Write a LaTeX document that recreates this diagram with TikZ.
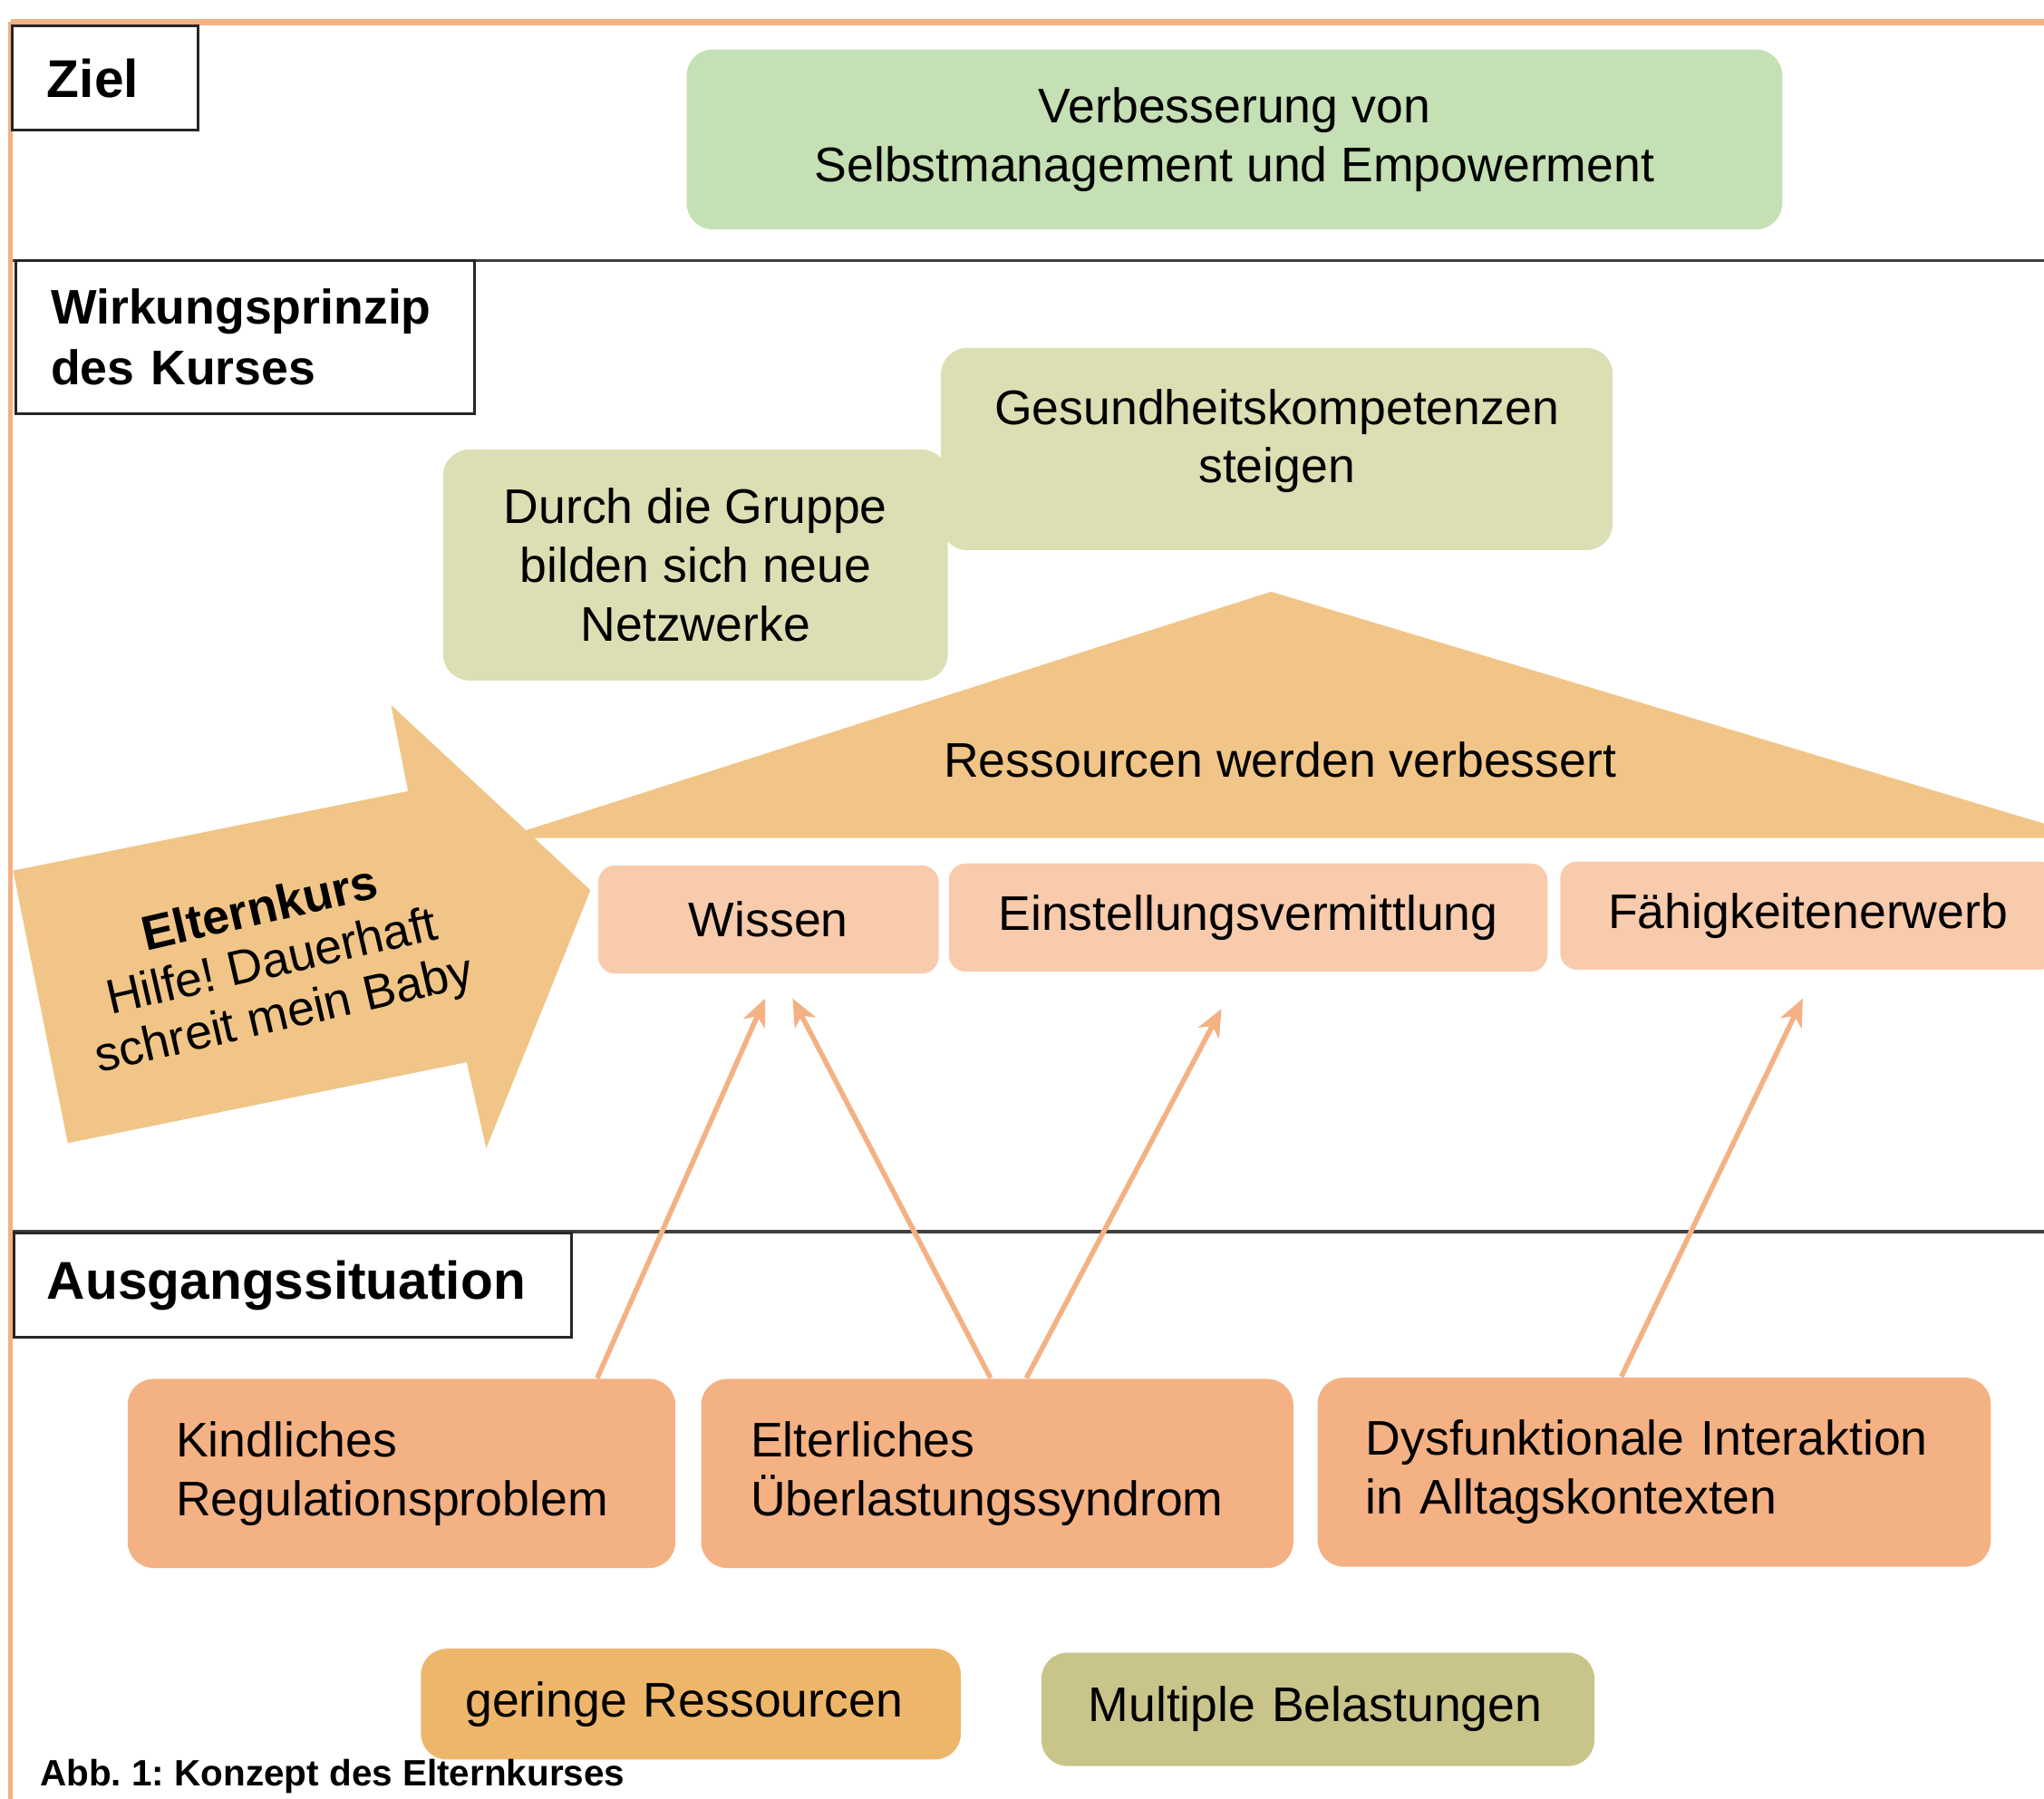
\documentclass[tikz,border=0pt]{standalone}
\usepackage{fontspec}
\setmainfont{Liberation Sans}
\usetikzlibrary{arrows.meta,positioning}

\definecolor{frameorange}{HTML}{F4B183}
\definecolor{goalgreen}{HTML}{C5E0B4}
\definecolor{paleolive}{HTML}{DCDFB3}
\definecolor{sandorange}{HTML}{F1C587}
\definecolor{lightsalmon}{HTML}{F8CBAD}
\definecolor{salmon}{HTML}{F4B183}
\definecolor{ochre}{HTML}{EEB66A}
\definecolor{olivebox}{HTML}{C9C48A}

\tikzset{
  base/.style={font=\fontsize{10.6}{12.8}\selectfont},
  heading/.style={draw=black!85, line width=0.6pt, fill=white, anchor=north west,
    inner xsep=0.27cm, align=left, font=\fontsize{10.6}{13.1}\selectfont\bfseries},
  bigheading/.style={heading, font=\fontsize{11.6}{13.9}\selectfont\bfseries},
  separator/.style={draw=black!75, line width=0.7pt},
  roundbox/.style={base, rounded corners=0.2cm, inner sep=0pt, align=center},
  skillbox/.style={roundbox, fill=lightsalmon, rounded corners=0.13cm, minimum height=0.83cm},
  problembox/.style={roundbox, fill=salmon, minimum height=1.45cm, align=left},
  link/.style={draw=salmon, line width=1.1pt, -{Stealth[length=0.21cm, width=0.18cm, inset=0.06cm]}}
}

\begin{document}
\frenchspacing
\begin{tikzpicture}[x=0.01cm,y=0.01cm]

  % page size of the reference
  \useasboundingbox (0,0) rectangle (1568,-1380);

  % orange frame, top and left
  \draw[frameorange, line width=1.4pt] (8,-17) -- (1568,-17);
  \draw[frameorange, line width=0.9pt] (8,-17) -- (8,-1380);

  % separator lines (loop)
  \foreach \y in {200,945}
    \draw[separator] (10,-\y) -- (1568,-\y);

  % section headings
  \node[bigheading, text width=0.89cm, minimum height=0.8cm] (ziel) at (8,-19) {Ziel};
  \node[heading, text width=2.98cm, minimum height=1.17cm] (wirk) at (11,-199) {Wirkungsprinzip\\des Kurses};
  \node[bigheading, text width=3.77cm, minimum height=0.8cm, inner xsep=0.25cm] (ausgang) at (10,-945) {Ausgangssituation};

  % goal
  \node[roundbox, fill=goalgreen, minimum width=8.4cm, minimum height=1.38cm] (goal) at (947,-107)
    {Verbesserung von\\Selbstmanagement und Empowerment};

  % effects of the course
  \node[roundbox, fill=paleolive, minimum width=5.15cm, minimum height=1.55cm] (kompetenz) at (979.5,-344.5)
    {Gesundheitskompetenzen\\steigen\\[-0.25cm]};
  \node[roundbox, fill=paleolive, minimum width=3.87cm, minimum height=1.77cm] (netz) at (533.5,-433.5)
    {Durch die Gruppe\\bilden sich neue\\Netzwerke};

  % triangle and big arrow
  \fill[sandorange] (385,-643) -- (975,-454) -- (1605,-643) -- cycle;
  \node[base] (ressourcen) at (982,-583) {Ressourcen werden verbessert};
  \fill[sandorange] (10,-668) -- (313,-607) -- (300,-541) -- (453,-683)
    -- (373,-881) -- (358,-815) -- (52,-877) -- cycle;
  \node[font=\fontsize{10.6}{11.8}\selectfont, rotate=13, align=center] (kurs) at (209,-740)
    {\textbf{Elternkurs}\\Hilfe! Dauerhaft\\schreit mein Baby};

  % resources (loop)
  \foreach \name/\x/\y/\w/\txt in {wissen/589.5/705.5/2.61/Wissen,
      einstellung/957.5/704/4.59/Einstellungsvermittlung,
      faehig/1387/702.5/3.8/Fähigkeitenerwerb}
    \node[skillbox, minimum width=\w cm] (\name) at (\x,-\y) {\txt};

  % starting problems (loop)
  \foreach \name/\x/\y/\w/\tw/\txt in {kind/308/1130.5/4.20/3.46/{Kindliches\\Regulationsproblem},
      eltern/765/1130.5/4.54/3.78/{Elterliches\\Überlastungssyndrom},
      dysfunk/1269/1129.5/5.16/4.42/{Dysfunktionale Interaktion\\in Alltagskontexten}}
    \node[problembox, minimum width=\w cm, text width=\tw cm] (\name) at (\x,-\y) {\txt};

  % background conditions
  \node[roundbox, fill=ochre, minimum width=4.14cm, minimum height=0.85cm,
    text width=3.46cm, align=left] (gering) at (530,-1307.5) {geringe Ressourcen};
  \node[roundbox, fill=olivebox, minimum width=4.24cm, minimum height=0.87cm,
    text width=3.52cm, align=left] (multi) at (1011,-1311.5) {Multiple Belastungen};

  % caption
  \node[anchor=west, inner sep=0pt, font=\fontsize{8}{9.6}\selectfont\bfseries] (caption) at (30,-1363)
    {Abb. 1: Konzept des Elternkurses};

  % arrow ends below the resources
  \coordinate (tipA) at (587,-766);
  \coordinate (tipB) at (608,-766);
  \coordinate (tipC) at (937,-774);
  \coordinate (tipD) at (1383,-766);

  % arrows from problems to resources
  \draw[link] (kind.26) -- (tipA);
  \draw[link] (eltern.94) -- (tipB);
  \draw[link] (eltern.73) -- (tipC);
  \draw[link] (dysfunk.109) -- (tipD);

\end{tikzpicture}
\end{document}
